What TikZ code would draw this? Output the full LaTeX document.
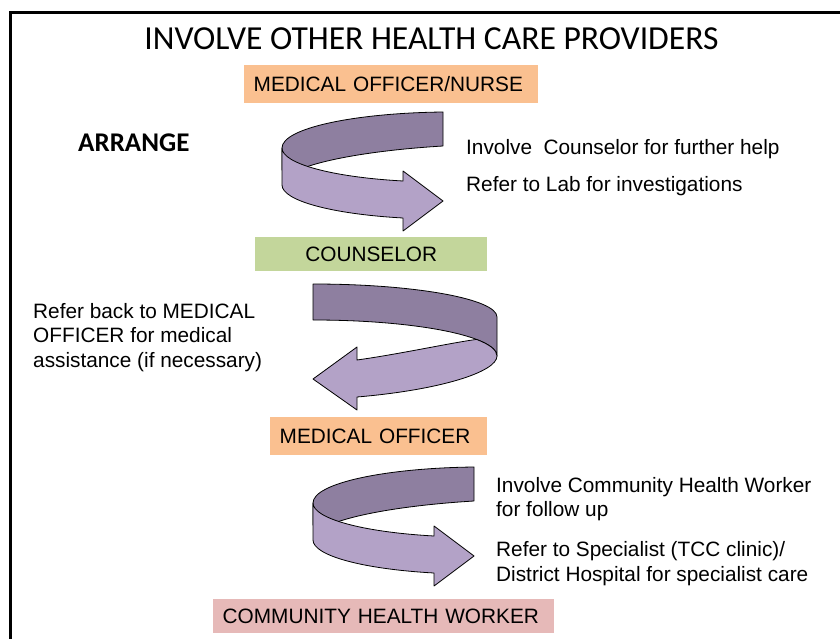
\documentclass[tikz,border=0pt]{standalone}
\usepackage{fontspec}
\setmainfont{Liberation Sans}
\newfontfamily\calibri{Carlito}

\definecolor{nurseorange}{HTML}{FAC090}
\definecolor{counselgreen}{HTML}{C3D69B}
\definecolor{workerpink}{HTML}{E6B9B8}
\definecolor{ribbonlight}{HTML}{B3A2C7}
\definecolor{ribbondark}{HTML}{8E7FA0}

\begin{document}
\begin{tikzpicture}[
    x=1pt, y=-1pt,
    font=\fontsize{20.8}{24.5}\selectfont,
    role/.style={inner xsep=9.5pt, inner ysep=0pt, text height=15pt, text depth=0pt, align=left, anchor=north west},
    note/.style={anchor=base west, align=left, inner sep=0pt},
    back/.style={fill=ribbondark, draw=black, line width=0.8pt, line join=round},
    front/.style={fill=ribbonlight, draw=black, line width=0.8pt, line join=round}
  ]
  \useasboundingbox (0,0) rectangle (840,639);
  \draw[line width=2.5pt] (10.5,660) -- (10.5,12.5) -- (860,12.5);

  \node[font=\calibri\fontsize{33.6}{40}\selectfont, anchor=base] (title) at (431.5,50) {INVOLVE OTHER HEALTH CARE PROVIDERS};
  \node[font=\calibri\bfseries\fontsize{27}{32}\selectfont, anchor=base west, inner sep=0pt] (arrange) at (78,152) {ARRANGE};

  % the people in the chain
  \node[role, fill=nurseorange, text width=275pt, minimum height=38pt] (nurse) at (244,65) {MEDICAL OFFICER/NURSE};
  \node[role, fill=counselgreen, text width=213pt, align=center, minimum height=34pt] (counselor) at (255,237) {COUNSELOR};
  \node[role, fill=nurseorange, text width=198pt, minimum height=38pt] (officer) at (270,417) {MEDICAL OFFICER};
  \node[role, fill=workerpink, text width=322pt, minimum height=34pt] (worker) at (213,599) {COMMUNITY HEALTH WORKER};

  % turning arrows, right-hand ones
  \foreach \dx/\dy in {0/0, 31/355} {
    \begin{scope}[shift={(\dx,\dy)}]
      \draw[back] (443,112) .. controls (355,113) and (282,128) .. (282,148) -- (282,170) -- (307.6,166.5)
        .. controls (336.7,156.8) and (386.7,149.4) .. (443,146) -- cycle;
      \draw[front] (282,148) .. controls (282,163.3) and (330.5,177) .. (403,181) -- (403,171) -- (443,201)
        -- (403,231) -- (403,218) .. controls (330.5,214) and (282,200.3) .. (282,185) -- cycle;
    \end{scope}
  }
  % left-hand one
  \draw[back] (313,284) .. controls (415,284) and (497,299) .. (497,317) -- (497,356)
    .. controls (497,336) and (415,320) .. (313,320) -- cycle;
  \draw[front] (357,360) .. controls (400,354) and (450,343) .. (476.5,339.4)
    .. controls (489.6,344.4) and (497,350) .. (497,356) .. controls (497,372) and (440,390) .. (357,397)
    -- (357,410) -- (313,379) -- (357,347) -- cycle;

  % notes (base = last line)
  \node[note] (counselnote) at (466,155) {Involve\ \ Counselor for further help};
  \node[note] (labnote) at (466,192) {Refer to Lab for investigations};
  \node[note] (backnote) at (33,367) {Refer back to MEDICAL\\OFFICER for medical\\assistance (if necessary)};
  \node[note] (chwnote) at (496,516.5) {Involve Community Health Worker\\for follow up};
  \node[note] (specnote) at (496,581) {Refer to Specialist (TCC clinic)/\\District Hospital for specialist care};
\end{tikzpicture}
\end{document}
